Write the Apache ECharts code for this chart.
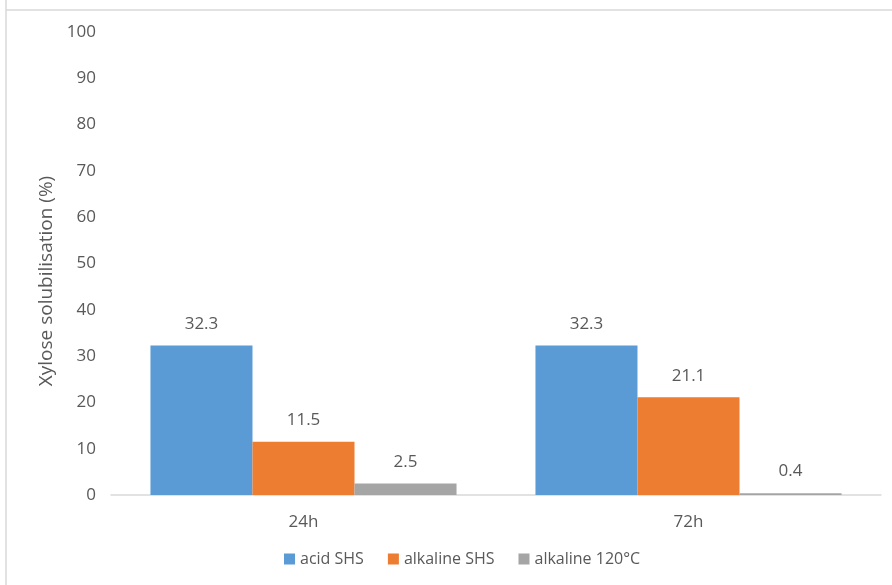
<!DOCTYPE html>
<html>
<head>
<meta charset="utf-8">
<script src="https://cdn.jsdelivr.net/npm/echarts@6/dist/echarts.min.js"></script>
<style>
  html, body { margin: 0; padding: 0; background: #fff; }
  #chart { width: 892px; height: 585px; }
</style>
</head>
<body>
<div id="chart"></div>
<script>
// Xylose solubilisation by pretreatment and time
const categories = ['24h', '72h'];
const acidSHS = [32.3, 32.3];
const alkalineSHS = [11.5, 21.1];
const alkaline120 = [2.5, 0.4];
const seriesNames = ['acid SHS', 'alkaline SHS', 'alkaline 120°C'];
const yTicks = [0, 10, 20, 30, 40, 50, 60, 70, 80, 90, 100];
const yAxisTitle = 'Xylose solubilisation (%)';

const font = '"Open Sans", "Liberation Sans", sans-serif';
const textColor = '#595959';

function barSeries(name, data, color) {
  return {
    name: name,
    type: 'bar',
    data: data,
    barGap: '0%',
    barCategoryGap: '20.5%',
    itemStyle: { color: color },
    label: {
      show: true,
      position: 'top',
      distance: 13,
      color: textColor,
      fontFamily: font,
      fontSize: 17,
      formatter: p => p.value.toFixed(1)
    }
  };
}

const chart = echarts.init(document.getElementById('chart'), null, { renderer: 'canvas' });
chart.setOption({
  backgroundColor: '#ffffff',
  animation: false,
  graphic: [
    { type: 'line', shape: { x1: 6, y1: 0, x2: 6, y2: 585 }, style: { stroke: '#d9d9d9', lineWidth: 1.5 } },
    { type: 'line', shape: { x1: 6, y1: 10, x2: 892, y2: 10 }, style: { stroke: '#d9d9d9', lineWidth: 1.5 } },
    {
      type: 'text',
      x: 47,
      y: 281,
      rotation: Math.PI / 2,
      style: {
        text: yAxisTitle,
        fill: textColor,
        font: '19px ' + font,
        textAlign: 'center',
        textVerticalAlign: 'middle'
      }
    }
  ],
  grid: { left: 111, right: 11, top: 32, bottom: 90, containLabel: false },
  legend: {
    data: seriesNames,
    bottom: 13,
    left: 279,
    itemWidth: 11,
    itemHeight: 11,
    itemGap: 24,
    icon: 'rect',
    textStyle: { color: textColor, fontFamily: font, fontSize: 16 }
  },
  xAxis: {
    type: 'category',
    data: categories,
    axisLine: { lineStyle: { color: '#d9d9d9', width: 1.5 } },
    axisTick: { show: false },
    axisLabel: { color: textColor, fontFamily: font, fontSize: 17, margin: 19 }
  },
  yAxis: {
    type: 'value',
    min: yTicks[0],
    max: yTicks[yTicks.length - 1],
    interval: 10,
    axisLine: { show: false },
    axisTick: { show: false },
    splitLine: { show: false },
    axisLabel: { color: textColor, fontFamily: font, fontSize: 17, margin: 15 }
  },
  series: [
    barSeries(seriesNames[0], acidSHS, '#5b9bd5'),
    barSeries(seriesNames[1], alkalineSHS, '#ed7d31'),
    barSeries(seriesNames[2], alkaline120, '#a5a5a5')
  ]
});
</script>
</body>
</html>
